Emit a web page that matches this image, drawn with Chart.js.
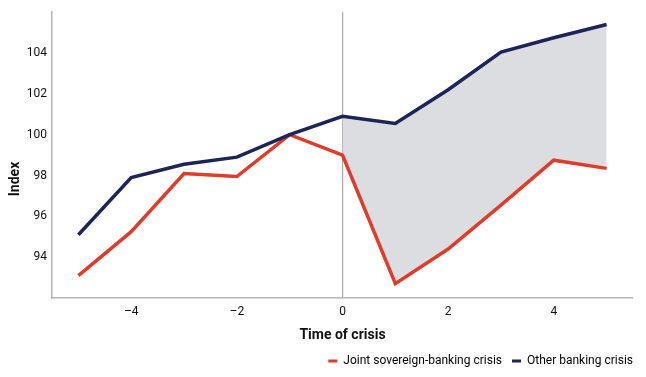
<!DOCTYPE html>
<html>
<head>
<meta charset="utf-8">
<script src="https://cdn.jsdelivr.net/npm/chart.js@4/dist/chart.umd.min.js"></script>
<style>
  html, body { margin: 0; padding: 0; background: #ffffff; }
  #wrap { width: 646px; height: 377px; }
</style>
</head>
<body>
<div id="wrap"><canvas id="c" width="646" height="377"></canvas></div>
<script>
// ---- data ----
const timeOfCrisis = [-5, -4, -3, -2, -1, 0, 1, 2, 3, 4, 5];
const jointSovereignBanking = [93.1, 95.25, 98.1, 97.95, 100.0, 99.0, 92.7, 94.4, 96.55, 98.75, 98.35];
const otherBanking = [95.1, 97.9, 98.55, 98.9, 100.0, 100.9, 100.55, 102.2, 104.05, 104.75, 105.4];
const xTicks = [-4, -2, 0, 2, 4];
const yTicks = [94, 96, 98, 100, 102, 104];
const seriesNames = ['Joint sovereign-banking crisis', 'Other banking crisis'];
const yTitle = 'Index';
const xTitle = 'Time of crisis';

const RED = '#dd3d2c';
const NAVY = '#1d2456';
const FILLGRAY = '#dcdde0';
const FONT = "Roboto, 'Liberation Sans', sans-serif";

const toPts = (ys) => timeOfCrisis.map((x, i) => ({ x, y: ys[i] }));
const startIdx = timeOfCrisis.indexOf(0);
const bandPts = toPts(otherBanking).slice(startIdx);

const yTitlePlugin = {
  id: 'yTitle',
  afterDraw(chart) {
    const ctx = chart.ctx;
    ctx.save();
    ctx.translate(15, 179);
    ctx.rotate(-Math.PI / 2);
    ctx.font = "bold 14px " + FONT;
    ctx.fillStyle = '#111';
    ctx.textAlign = 'center';
    ctx.textBaseline = 'middle';
    ctx.fillText(yTitle, 0, 0);
    ctx.restore();
  }
};

new Chart(document.getElementById('c'), {
  type: 'line',
  data: {
    datasets: [
      {
        label: 'band',
        data: bandPts,
        borderWidth: 0,
        borderColor: 'rgba(0,0,0,0)',
        backgroundColor: FILLGRAY,
        pointRadius: 0,
        fill: { target: 1 },
        order: 3
      },
      {
        label: seriesNames[0],
        data: toPts(jointSovereignBanking),
        borderColor: RED,
        backgroundColor: RED,
        borderWidth: 3.5,
        pointRadius: 0,
        fill: false,
        tension: 0,
        borderJoinStyle: 'miter',
        order: 2
      },
      {
        label: seriesNames[1],
        data: toPts(otherBanking),
        borderColor: NAVY,
        backgroundColor: NAVY,
        borderWidth: 3.5,
        pointRadius: 0,
        fill: false,
        tension: 0,
        borderJoinStyle: 'miter',
        order: 1
      }
    ]
  },
  options: {
    responsive: false,
    animation: false,
    events: [],
    layout: { padding: { top: 12, right: 3, bottom: 0, left: 0 } },
    plugins: {
      filler: { drawTime: 'beforeDatasetsDraw' },
      tooltip: { enabled: false },
      legend: {
        position: 'bottom',
        align: 'end',
        labels: {
          font: { family: FONT, size: 12 },
          color: '#111',
          boxWidth: 9,
          boxHeight: 3,
          padding: 10,
          filter: (item) => item.text !== 'band',
          generateLabels: (chart) => chart.data.datasets.map((ds, i) => ({
            text: ds.label,
            fillStyle: ds.borderColor,
            strokeStyle: ds.borderColor,
            lineWidth: 0,
            hidden: false,
            datasetIndex: i
          }))
        }
      }
    },
    scales: {
      x: {
        type: 'linear',
        min: -5.5,
        max: 5.5,
        afterBuildTicks: (s) => { s.ticks = xTicks.map(v => ({ value: v })); },
        afterFit: (s) => { s.height = 47; },
        ticks: {
          font: { family: FONT, size: 12 },
          color: '#111',
          padding: 7,
          maxRotation: 0,
          callback: (v) => String(v).replace('-', '\u2013')
        },
        grid: {
          drawTicks: false,
          color: (ctx) => (ctx.tick && ctx.tick.value === 0) ? '#a8a8a8' : 'rgba(0,0,0,0)',
          lineWidth: 1.2
        },
        border: { display: true, color: '#b4b4b4', width: 1.5 },
        title: {
          display: true,
          text: xTitle,
          font: { family: FONT, size: 14, weight: 'bold' },
          color: '#111',
          padding: { top: 5, bottom: 0.8 }
        }
      },
      y: {
        type: 'linear',
        min: 92,
        max: 106,
        afterBuildTicks: (s) => { s.ticks = yTicks.map(v => ({ value: v })); },
        afterFit: (s) => { s.width = 52; },
        ticks: {
          font: { family: FONT, size: 12 },
          color: '#111',
          padding: 5
        },
        grid: { display: false, drawTicks: false },
        border: { display: true, color: '#b4b4b4', width: 1.5 }
      },
      yRight: {
        type: 'linear',
        position: 'right',
        display: true,
        afterFit: (s) => { s.width = 10; },
        ticks: { display: false },
        grid: { display: false, drawTicks: false },
        border: { display: false }
      }
    }
  },
  plugins: [yTitlePlugin]
});
</script>
</body>
</html>
